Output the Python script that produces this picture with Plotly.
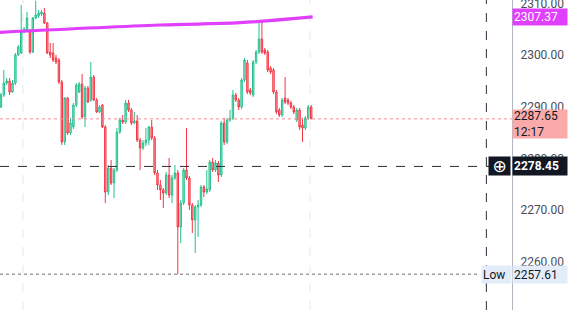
import plotly.graph_objects as go

# ---- candle data (price values) ----
opens = [2285.49, 2289.94, 2292.27, 2294.58, 2294.97, 2292.84, 2294.58, 2300.00, 2300.39, 2304.45,
         2304.84, 2304.84, 2300.58, 2307.16, 2307.54, 2307.93, 2308.12, 2306.19, 2300.58, 2300.39,
         2299.42, 2299.03, 2294.78, 2283.17, 2291.68, 2284.91, 2286.07, 2290.33, 2292.84, 2294.39,
         2288.01, 2293.62, 2291.30, 2295.74, 2291.30, 2288.97, 2290.33, 2286.07, 2273.50, 2278.14,
         2275.24, 2277.76, 2285.11, 2287.43, 2287.04, 2290.71, 2289.36, 2286.85, 2287.24, 2283.56,
         2282.01, 2282.98, 2283.56, 2286.07, 2283.95, 2277.18, 2274.86, 2273.89, 2273.31, 2276.79,
         2272.92, 2276.21, 2277.18, 2266.73, 2271.37, 2277.76, 2276.21, 2270.99, 2268.09, 2270.60,
         2270.99, 2274.47, 2273.50, 2273.89, 2279.30, 2277.76, 2279.11, 2276.79, 2286.85, 2283.17,
         2287.43, 2287.81, 2292.27, 2291.30, 2289.94, 2295.16, 2298.45, 2293.23, 2292.27, 2298.65,
         2300.58, 2303.10, 2300.97, 2300.58, 2297.49, 2297.10, 2292.84, 2289.36, 2288.39, 2291.68,
         2291.30, 2290.71, 2289.94, 2287.43, 2289.36, 2286.46, 2285.88, 2287.81, 2289.94]
highs = [2290.71, 2292.65, 2297.10, 2295.55, 2295.55, 2295.16, 2300.39, 2301.93, 2309.67, 2305.42,
         2308.32, 2305.03, 2307.35, 2310.50, 2308.70, 2308.70, 2309.09, 2306.38, 2302.32, 2302.32,
         2300.00, 2299.42, 2295.16, 2291.88, 2291.88, 2287.81, 2290.71, 2294.58, 2294.78, 2296.33,
         2294.00, 2294.00, 2298.65, 2296.13, 2291.68, 2290.33, 2290.52, 2286.46, 2278.72, 2279.69,
         2278.14, 2285.88, 2287.81, 2288.39, 2291.30, 2291.30, 2289.75, 2288.97, 2288.39, 2283.95,
         2283.56, 2285.88, 2286.27, 2287.43, 2284.33, 2277.76, 2275.82, 2274.27, 2277.37, 2280.08,
         2276.79, 2278.72, 2277.76, 2271.95, 2278.14, 2285.88, 2276.60, 2271.37, 2270.99, 2271.95,
         2274.86, 2274.86, 2277.76, 2279.69, 2280.08, 2279.69, 2279.50, 2287.24, 2287.81, 2287.81,
         2289.36, 2293.23, 2292.65, 2291.68, 2295.55, 2299.42, 2299.03, 2293.62, 2299.03, 2300.97,
         2306.19, 2306.77, 2301.35, 2300.97, 2297.87, 2297.49, 2293.23, 2289.75, 2291.68, 2295.74,
         2291.68, 2291.10, 2290.33, 2289.75, 2289.75, 2287.81, 2288.20, 2290.33, 2290.33]
lows = [2285.11, 2289.75, 2291.88, 2294.20, 2292.27, 2292.65, 2294.20, 2299.81, 2300.19, 2304.25,
        2304.64, 2300.19, 2300.39, 2306.96, 2307.16, 2307.54, 2305.99, 2300.19, 2299.42, 2298.65,
        2298.26, 2294.39, 2282.59, 2282.59, 2284.52, 2284.52, 2285.69, 2289.94, 2292.65, 2287.62,
        2286.07, 2290.71, 2290.91, 2291.10, 2288.78, 2288.78, 2285.88, 2271.37, 2272.92, 2274.86,
        2272.34, 2277.37, 2284.72, 2286.65, 2286.65, 2288.97, 2286.46, 2286.65, 2283.17, 2277.76,
        2281.63, 2282.40, 2282.59, 2283.56, 2276.79, 2273.89, 2271.95, 2270.41, 2272.92, 2272.34,
        2271.37, 2275.82, 2257.61, 2263.64, 2270.99, 2275.82, 2270.02, 2265.57, 2261.70, 2264.80,
        2270.60, 2272.53, 2273.11, 2273.50, 2277.37, 2277.37, 2275.43, 2276.40, 2282.59, 2282.79,
        2287.04, 2287.43, 2290.91, 2289.36, 2289.55, 2294.78, 2292.46, 2292.27, 2291.88, 2298.26,
        2300.19, 2300.19, 2300.00, 2296.71, 2296.33, 2292.46, 2288.59, 2288.01, 2288.01, 2290.52,
        2290.33, 2289.55, 2288.59, 2287.04, 2285.49, 2283.17, 2285.49, 2287.43, 2287.62]
closes = [2289.94, 2292.27, 2294.58, 2294.97, 2292.84, 2294.58, 2300.00, 2301.55, 2304.45, 2305.03,
          2307.16, 2300.58, 2307.16, 2307.74, 2308.12, 2308.32, 2306.19, 2300.39, 2300.00, 2299.03,
          2298.65, 2294.78, 2283.17, 2291.68, 2284.91, 2286.85, 2290.33, 2294.20, 2294.39, 2288.01,
          2293.62, 2290.91, 2295.74, 2291.30, 2288.97, 2289.94, 2286.07, 2273.50, 2278.14, 2275.24,
          2277.76, 2285.11, 2287.43, 2287.04, 2290.71, 2289.36, 2286.85, 2287.24, 2283.56, 2282.01,
          2282.98, 2283.56, 2286.07, 2283.95, 2277.18, 2274.86, 2273.89, 2273.31, 2276.79, 2272.92,
          2276.21, 2277.18, 2266.73, 2271.37, 2277.76, 2276.21, 2270.99, 2268.09, 2270.60, 2270.99,
          2274.47, 2273.50, 2274.08, 2279.30, 2277.76, 2279.11, 2276.79, 2286.85, 2283.17, 2287.43,
          2287.81, 2292.27, 2291.30, 2289.94, 2295.16, 2299.03, 2292.84, 2292.65, 2298.65, 2300.58,
          2303.10, 2300.58, 2300.39, 2297.10, 2296.71, 2292.84, 2288.97, 2288.39, 2291.30, 2290.91,
          2290.71, 2289.94, 2288.97, 2289.36, 2286.07, 2285.88, 2287.81, 2289.94, 2287.65]
bars = list(range(len(closes)))

# trend line (drawn object) anchor points: bar index / price
trend_bars = [0.7, 55.9, 83.4, 108.5]
trend_prices = [2304.39, 2305.80, 2306.25, 2307.37]

# price-scale values
y_ticks = [2250, 2260, 2270, 2280, 2290, 2300, 2310]
last_price = 2287.65
countdown = "12:17"
cross_price = 2278.45
cross_bar = 168.4
low_price = 2257.61
grid_bars = [8.6, 107.6]
x_range = [0.69, 177.24]
y_range = [2250.68, 2310.64]

UP = "#22c18f"
DN = "#f23645"
MAG = "#e040fb"
FONT = "Roboto"

fig = go.Figure()
fig.add_trace(go.Candlestick(
    x=bars, open=opens, high=highs, low=lows, close=closes,
    increasing=dict(line=dict(color=UP, width=1), fillcolor="rgba(34,193,143,0.45)"),
    decreasing=dict(line=dict(color=DN, width=1), fillcolor="rgba(242,54,69,0.45)"),
    whiskerwidth=0, showlegend=False, hoverinfo="skip"))

fig.add_trace(go.Scatter(x=trend_bars, y=trend_prices, mode="lines",
                         line=dict(color=MAG, width=3.2, shape="spline"),
                         showlegend=False, hoverinfo="skip"))

shapes = []
for gb in grid_bars:
    shapes.append(dict(type="line", xref="x", yref="paper", x0=gb, x1=gb, y0=0, y1=1,
                       line=dict(color="#e6e8ee", width=1, dash="dash"), layer="below"))
shapes += [
    dict(type="line", xref="paper", yref="y", x0=0, x1=1, y0=last_price, y1=last_price,
         line=dict(color="#f58a93", width=1, dash="dot")),
    dict(type="line", xref="x", yref="y", x0=x_range[0], x1=cross_bar + 1.2, y0=cross_price, y1=cross_price,
         line=dict(color="#2a2e39", width=1, dash="dash")),
    dict(type="line", xref="x", yref="paper", x0=cross_bar, x1=cross_bar, y0=0, y1=1,
         line=dict(color="#2a2e39", width=1, dash="dash")),
    dict(type="line", xref="x", yref="y", x0=x_range[0], x1=166.2, y0=low_price, y1=low_price,
         line=dict(color="#6a6d78", width=1, dash="dot")),
]

anns = [
    dict(xref="paper", yref="y", x=1, y=trend_prices[-1], xanchor="left", yanchor="middle",
         text=f"{trend_prices[-1]:.2f}", showarrow=False, bgcolor=MAG, width=52, height=14,
         align="left", font=dict(color="white", size=12, family=FONT), borderpad=1),
    dict(xref="paper", yref="y", x=1, y=last_price, xanchor="left", yanchor="middle", yshift=-5,
         text=f"{last_price:.2f}<br>{countdown}", showarrow=False, bgcolor="#f9aaa9",
         width=52, height=26, align="left", font=dict(color="#131722", size=12, family=FONT), borderpad=1),
    dict(xref="paper", yref="y", x=1, y=cross_price, xanchor="left", yanchor="middle",
         text=f"<b>{cross_price:.2f}</b>", showarrow=False, bgcolor="#131722", width=52, height=16,
         align="left", font=dict(color="white", size=12, family=FONT), borderpad=1),
    dict(xref="paper", yref="y", x=1, y=cross_price, xanchor="right", yanchor="middle", xshift=-1,
         text="⊕", showarrow=False, bgcolor="#131722", width=19, height=16,
         align="center", font=dict(color="white", size=17, family="DejaVu Sans"), borderpad=1),
    dict(xref="paper", yref="y", x=1, y=low_price, xanchor="left", yanchor="middle",
         text=f"{low_price:.2f}", showarrow=False, bgcolor="#e3edfa", width=52, height=15,
         align="left", font=dict(color="#131722", size=12, family=FONT), borderpad=1),
    dict(xref="paper", yref="y", x=1, y=low_price, xanchor="right", yanchor="middle",
         text="Low", showarrow=False, bgcolor="#e3edfa", width=27, height=15,
         align="left", font=dict(color="#131722", size=12, family=FONT), borderpad=1),
]

fig.update_layout(
    width=572, height=310, margin=dict(l=0, r=60, t=0, b=0, autoexpand=False),
    paper_bgcolor="white", plot_bgcolor="white",
    shapes=shapes, annotations=anns,
    xaxis=dict(range=x_range, visible=False, rangeslider=dict(visible=False), fixedrange=True),
    yaxis=dict(side="right", range=y_range, tickvals=y_ticks,
               ticktext=[f"{v:.2f}" for v in y_ticks], showgrid=False, zeroline=False,
               showline=True, linecolor="#b2b5be", linewidth=1, ticks="", automargin=False,
               ticklabeloverflow="allow", ticklabelstandoff=5,
               tickfont=dict(color="#4a4d57", size=12, family=FONT)),
)
fig.write_html("out.html")
